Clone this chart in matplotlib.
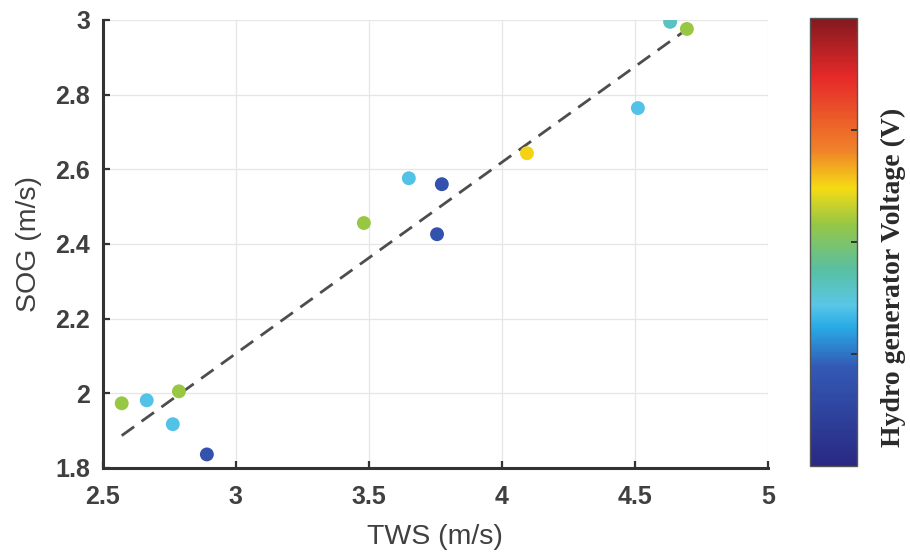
#!/usr/bin/env python3

import numpy as np
import matplotlib
matplotlib.use('Agg')
import matplotlib.pyplot as plt
from matplotlib.colors import LinearSegmentedColormap

plt.rcParams['font.family'] = ['Liberation Sans', 'DejaVu Sans']

# true wind speed vs speed over ground, coloured by hydro generator voltage
tws = [2.571, 2.665, 2.786, 2.763, 2.891, 3.481, 3.650, 3.774, 3.756,
       4.094, 4.511, 4.632, 4.695]
sog = [1.973, 1.981, 2.005, 1.917, 1.836, 2.456, 2.576, 2.560, 2.426,
       2.643, 2.764, 2.995, 2.976]
voltage = [2.16, 1.42, 2.16, 1.42, 0.75, 2.16, 1.42, 0.75, 0.75,
           2.5, 1.42, 1.6, 2.16]

x_ticks = [2.5, 3, 3.5, 4, 4.5, 5]
y_ticks = [1.8, 2, 2.2, 2.4, 2.6, 2.8, 3]
cbar_ticks = [1, 2, 3]

# slightly faded jet, as printed in the source figure
jet_soft = LinearSegmentedColormap.from_list('jet_soft', [
    (0.00, (0.16, 0.16, 0.51)),
    (0.22, (0.20, 0.35, 0.71)),
    (0.31, (0.16, 0.67, 0.90)),
    (0.36, (0.35, 0.78, 0.90)),
    (0.44, (0.35, 0.75, 0.63)),
    (0.54, (0.59, 0.78, 0.27)),
    (0.62, (0.96, 0.86, 0.08)),
    (0.705, (0.94, 0.51, 0.16)),
    (0.87, (0.90, 0.16, 0.16)),
    (1.00, (0.51, 0.10, 0.12)),
])

fig = plt.figure(figsize=(9.1, 5.55), dpi=100)
ax = fig.add_axes([0.113, 0.157, 0.731, 0.807])
cax = fig.add_axes([0.890, 0.160, 0.052, 0.808])

# least squares fit, drawn over the data range
k, b = np.polyfit(tws, sog, 1)
xf = np.array([min(tws), max(tws)])
ax.plot(xf, k*xf + b, color='#4d4d4d', lw=2.0, dashes=(5.5, 3.3), zorder=2)

sc = ax.scatter(tws, sog, c=voltage, cmap=jet_soft, vmin=0, vmax=4,
                s=100, edgecolors='none', zorder=3)

ax.set_xlim(2.5, 5)
ax.set_ylim(1.8, 3)
ax.set_xticks(x_ticks)
ax.set_xticklabels(['2.5', '3', '3.5', '4', '4.5', '5'])
ax.set_yticks(y_ticks)
ax.set_yticklabels(['1.8', '2', '2.2', '2.4', '2.6', '2.8', '3'])
ax.grid(True, color='#e6e6e6', lw=0.9)
ax.set_axisbelow(True)
for s in ['top', 'right']:
    ax.spines[s].set_visible(False)
for s in ['left', 'bottom']:
    ax.spines[s].set_linewidth(2.2)
    ax.spines[s].set_color('#333333')
ax.tick_params(direction='in', length=5, width=1.6, colors='#333333',
               labelsize=18, labelcolor='#404040')
ax.tick_params(axis='y', pad=9)
ax.tick_params(axis='x', pad=12)
for t in ax.get_xticklabels() + ax.get_yticklabels():
    t.set_fontweight('bold')
ax.set_xlabel('TWS (m/s)', fontsize=20.5, color='#404040', labelpad=11)
ax.set_ylabel('SOG (m/s)', fontsize=20.5, color='#404040', labelpad=10)

cb = fig.colorbar(sc, cax=cax)
cb.set_ticks(cbar_ticks)
cb.ax.tick_params(direction='in', length=4, width=1.4, colors='#333333',
                  labelright=False, right=True, left=False)
cb.outline.set_edgecolor('#555555')
cb.outline.set_linewidth(1.0)
cb.ax.yaxis.set_label_position('right')
lab = cb.ax.set_ylabel('Hydro generator Voltage (V)', family=['Liberation Serif'],
                       fontweight='bold', fontsize=20, color='#2a2a2a',
                       rotation=90)
lab.set_horizontalalignment('center')
lab.set_verticalalignment('center')
cb.ax.yaxis.set_label_coords(1.77, 0.42)

fig.savefig('out.png', dpi=100)
